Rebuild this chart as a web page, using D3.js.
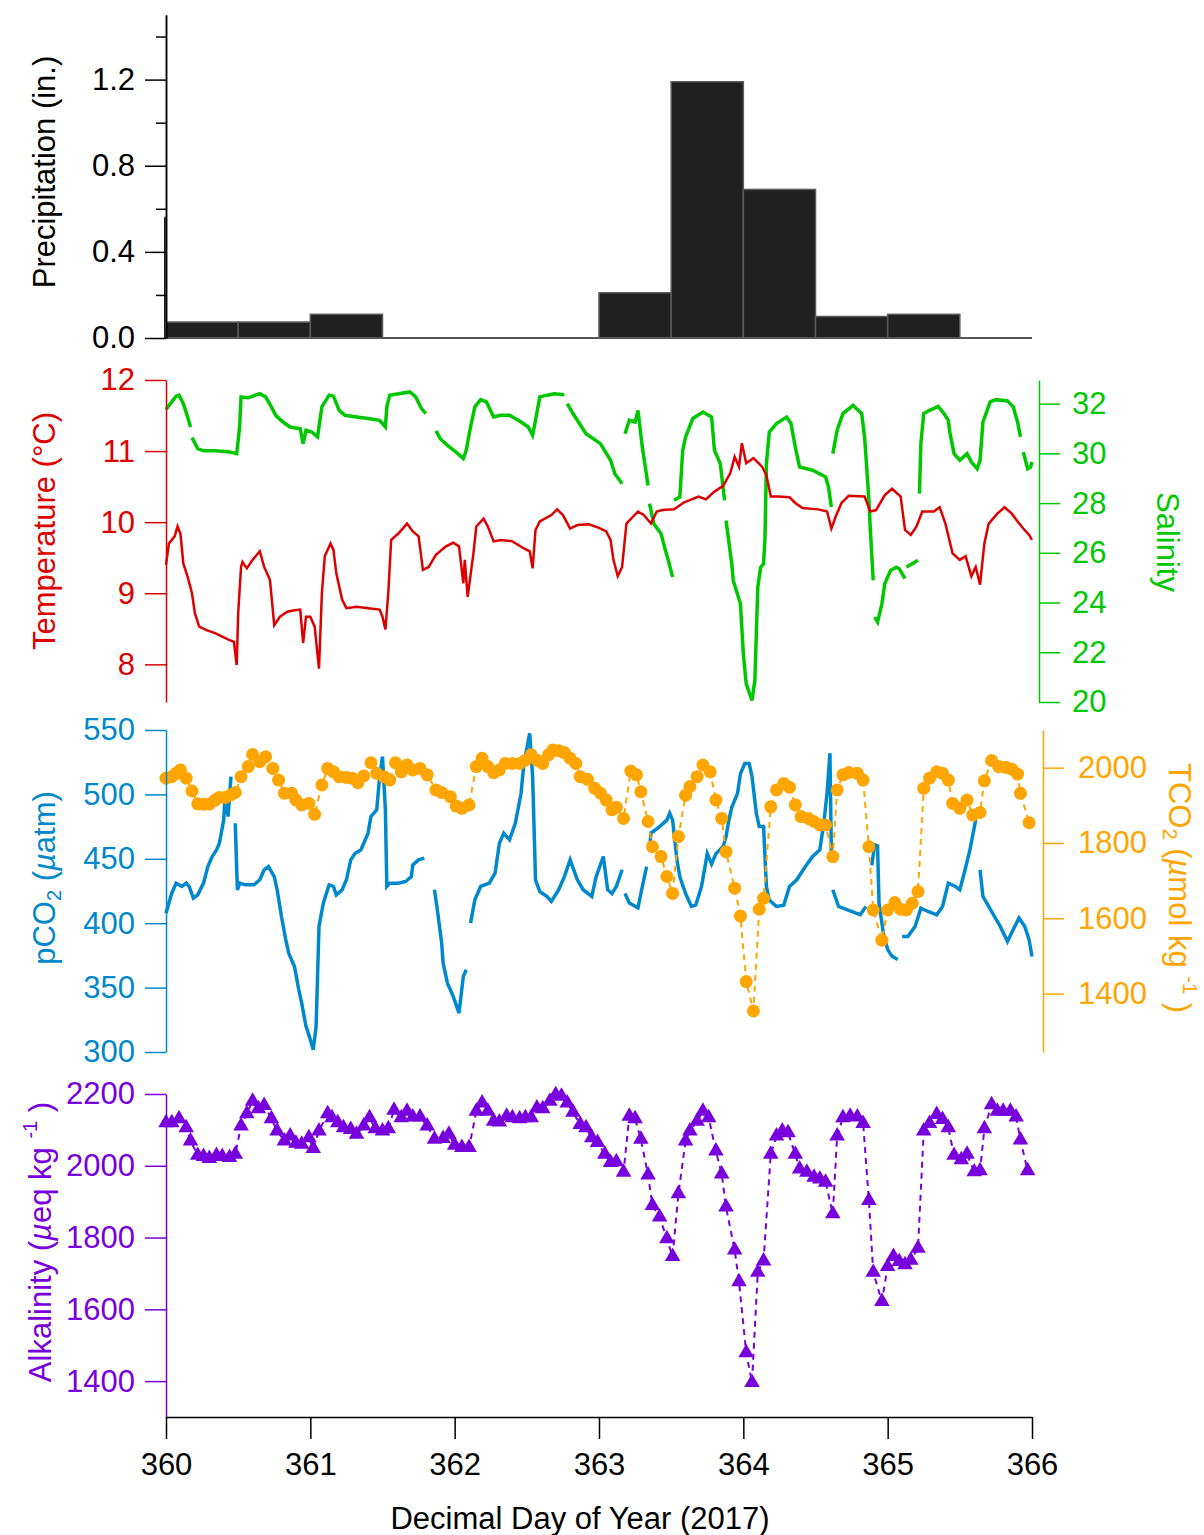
<!DOCTYPE html>
<html>
<head>
<meta charset="utf-8">
<script src="https://cdn.jsdelivr.net/npm/d3@7"></script>
<style>
body { margin: 0; background: #fff; }
text { font-family: Helvetica, "Liberation Sans", Arial, sans-serif; }
</style>
</head>
<body>
<script>
// Precipitation: 12 h bins (start day, inches)
const precipStart = [359.5, 360.0, 360.5, 361.0, 363.0, 363.5, 364.0, 364.5, 365.0];
const precipVal   = [0.56, 0.074, 0.074, 0.11, 0.21, 1.19, 0.69, 0.10, 0.11];
const precipTicks = [0, 0.4, 0.8, 1.2];
const precipMinor = [0.2, 0.6, 1.0, 1.4];

// Temperature (°C) vs decimal day
const temperature = [
  [360.00, 9.40], [360.02, 9.70], [360.06, 9.80], [360.08, 9.94], [360.10, 9.84], [360.12, 9.42],
  [360.15, 9.23], [360.18, 9.00], [360.20, 8.72], [360.23, 8.53], [360.28, 8.48], [360.34, 8.44],
  [360.39, 8.39], [360.44, 8.34], [360.47, 8.32], [360.49, 7.99], [360.50, 8.72], [360.52, 9.37],
  [360.53, 9.44], [360.56, 9.35], [360.60, 9.47], [360.65, 9.59], [360.68, 9.37], [360.72, 9.19],
  [360.75, 8.55], [360.79, 8.67], [360.84, 8.74], [360.89, 8.76], [360.93, 8.77], [360.95, 8.30],
  [360.97, 8.67], [361.00, 8.67], [361.03, 8.53], [361.06, 7.94], [361.08, 9.00], [361.10, 9.52],
  [361.14, 9.70], [361.16, 9.61], [361.18, 9.28], [361.22, 8.91], [361.25, 8.79], [361.32, 8.81],
  [361.40, 8.79], [361.48, 8.77], [361.50, 8.67], [361.52, 8.49], [361.54, 9.00], [361.56, 9.75],
  [361.61, 9.84], [361.67, 9.98], [361.71, 9.87], [361.75, 9.80], [361.78, 9.33], [361.82, 9.37],
  [361.87, 9.54], [361.94, 9.66], [361.99, 9.71], [362.03, 9.66], [362.06, 9.14], [362.07, 9.47],
  [362.09, 8.95], [362.13, 9.56], [362.15, 9.94], [362.20, 10.05], [362.23, 9.94], [362.27, 9.73],
  [362.32, 9.75], [362.40, 9.73], [362.48, 9.63], [362.52, 9.59], [362.54, 9.35], [362.56, 9.89],
  [362.59, 10.01], [362.67, 10.10], [362.71, 10.18], [362.75, 10.10], [362.80, 9.91], [362.85, 9.96],
  [362.93, 9.97], [363.00, 9.92], [363.05, 9.87], [363.08, 9.75], [363.10, 9.47], [363.13, 9.24],
  [363.16, 9.37], [363.19, 9.98], [363.27, 10.15], [363.31, 10.10], [363.36, 9.98], [363.40, 10.15],
  [363.44, 10.17], [363.52, 10.18], [363.59, 10.28], [363.69, 10.36], [363.74, 10.32], [363.80, 10.43],
  [363.86, 10.51], [363.91, 10.69], [363.94, 10.92], [363.97, 10.78], [363.99, 11.11], [364.02, 10.83],
  [364.07, 10.90], [364.13, 10.78], [364.16, 10.66], [364.19, 10.36], [364.24, 10.36], [364.32, 10.35],
  [364.36, 10.27], [364.41, 10.20], [364.52, 10.18], [364.58, 10.15], [364.61, 9.91], [364.64, 10.08],
  [364.68, 10.27], [364.73, 10.37], [364.84, 10.36], [364.88, 10.15], [364.92, 10.17], [364.98, 10.38],
  [365.03, 10.47], [365.09, 10.36], [365.12, 9.89], [365.16, 9.82], [365.20, 9.94], [365.24, 10.15],
  [365.28, 10.15], [365.32, 10.15], [365.36, 10.21], [365.40, 9.98], [365.45, 9.56], [365.50, 9.47],
  [365.54, 9.52], [365.58, 9.24], [365.61, 9.37], [365.64, 9.12], [365.67, 9.70], [365.70, 9.98],
  [365.76, 10.12], [365.81, 10.21], [365.86, 10.12], [365.90, 10.01], [365.94, 9.91], [365.98, 9.82],
  [366.00, 9.75]
];

// Salinity vs decimal day (null = gap in the record)
const salinity = [
  [360.00, 31.76], [360.03, 32.00], [360.07, 32.30], [360.09, 32.34], [360.12, 32.00], [360.15, 31.46],
  [360.17, 31.06], [360.175, null], [360.18, 30.63], [360.22, 30.19], [360.26, 30.10], [360.34, 30.10],
  [360.44, 30.05], [360.49, 29.99], [360.51, 31.06], [360.52, 32.27], [360.57, 32.24], [360.65, 32.40],
  [360.69, 32.27], [360.73, 31.87], [360.76, 31.53], [360.81, 31.26], [360.86, 31.06], [360.93, 30.99],
  [360.95, 30.39], [360.97, 30.93], [361.01, 30.86], [361.05, 30.66], [361.06, 31.06], [361.08, 31.87],
  [361.13, 32.34], [361.16, 32.30], [361.20, 31.73], [361.24, 31.53], [361.32, 31.46], [361.40, 31.40],
  [361.48, 31.33], [361.52, 31.06], [361.53, 31.87], [361.55, 32.34], [361.61, 32.40], [361.69, 32.47],
  [361.73, 32.27], [361.77, 31.80], [361.80, 31.60], [361.83, null], [361.87, 30.90], [361.90, 30.59],
  [361.95, 30.32], [362.01, 30.05], [362.06, 29.79], [362.08, 30.12], [362.11, 31.06], [362.14, 31.87],
  [362.18, 32.16], [362.22, 32.07], [362.27, 31.46], [362.32, 31.53], [362.38, 31.53], [362.46, 31.26],
  [362.51, 31.06], [362.54, 30.73], [362.56, 31.33], [362.59, 32.27], [362.64, 32.34], [362.69, 32.40],
  [362.76, 32.36], [362.77, null], [362.78, 32.00], [362.82, 31.60], [362.91, 30.79], [363.01, 30.39],
  [363.08, 29.72], [363.11, 29.18], [363.16, 28.78], [363.17, null], [363.18, 30.79], [363.21, 31.33],
  [363.25, 31.26], [363.27, 31.73], [363.30, 30.25], [363.34, 28.71], [363.345, null], [363.35, 27.98],
  [363.38, 27.17], [363.43, 26.77], [363.46, 26.10], [363.48, 25.70], [363.51, 25.02], [363.515, null],
  [363.52, 28.11], [363.56, 28.24], [363.58, 30.12], [363.60, 30.66], [363.65, 31.40], [363.72, 31.66],
  [363.78, 31.46], [363.80, 30.12], [363.84, 29.59], [363.87, 28.11], [363.875, null], [363.88, 27.30],
  [363.92, 25.56], [363.93, 24.89], [363.98, 23.95], [364.00, 21.94], [364.02, 20.73], [364.06, 20.06],
  [364.08, 20.87], [364.10, 24.62], [364.12, 25.42], [364.14, 25.56], [364.15, 26.63], [364.16, 29.59],
  [364.18, 30.86], [364.23, 31.20], [364.30, 31.46], [364.33, 31.20], [364.36, 30.25], [364.39, 29.45],
  [364.48, 29.32], [364.57, 29.05], [364.59, 28.64], [364.61, 27.84], [364.615, null], [364.62, 29.99],
  [364.65, 30.93], [364.69, 31.60], [364.76, 31.93], [364.82, 31.60], [364.84, 30.66], [364.85, 29.85],
  [364.87, 28.11], [364.88, 26.90], [364.90, 24.89], [364.905, null], [364.91, 23.41], [364.93, 23.21],
  [364.96, 23.95], [364.98, 24.76], [365.02, 25.29], [365.06, 25.42], [365.08, 25.36], [365.12, 24.96],
  [365.125, null], [365.13, 25.43], [365.17, 25.56], [365.21, 25.70], [365.215, null], [365.22, 28.38],
  [365.23, 30.39], [365.25, 31.60], [365.29, 31.73], [365.35, 31.89], [365.39, 31.60], [365.42, 31.33],
  [365.43, 30.86], [365.46, 29.99], [365.50, 29.72], [365.55, 29.99], [365.58, 29.65], [365.62, 29.38],
  [365.64, 29.72], [365.66, 31.26], [365.71, 32.07], [365.75, 32.16], [365.83, 32.11], [365.87, 31.87],
  [365.90, 31.26], [365.92, 30.66], [365.93, null], [365.94, 30.05], [365.97, 29.38], [365.99, 29.45],
  [366.00, 29.65]
];

// pCO2 (µatm) vs decimal day
const pco2 = [
  [360.00, 407.8], [360.02, 415.6], [360.04, 423.3], [360.07, 431.1], [360.11, 428.5], [360.14, 431.1],
  [360.16, 428.5], [360.19, 419.4], [360.22, 422.0], [360.26, 431.1], [360.29, 444.0], [360.32, 451.8],
  [360.35, 456.9], [360.37, 462.1], [360.40, 480.2], [360.41, 500.9], [360.43, 482.8], [360.45, 513.8],
  [360.46, null], [360.48, 477.6], [360.49, 441.4], [360.495, 425.9], [360.51, 431.1], [360.55, 429.8],
  [360.61, 429.8], [360.65, 433.7], [360.68, 441.4], [360.71, 444.0], [360.75, 436.2], [360.77, 425.9],
  [360.80, 405.2], [360.83, 387.1], [360.85, 376.8], [360.89, 366.4], [360.92, 348.3], [360.94, 338.0],
  [360.97, 319.9], [361.00, 309.6], [361.02, 301.8], [361.04, 319.9], [361.05, 358.7], [361.06, 397.5],
  [361.09, 415.6], [361.13, 429.8], [361.16, 428.5], [361.18, 422.0], [361.22, 425.9], [361.25, 433.7],
  [361.28, 449.2], [361.31, 454.3], [361.35, 456.9], [361.40, 469.9], [361.42, 482.8], [361.46, 488.0],
  [361.48, 513.8], [361.50, 529.3], [361.52, 488.0], [361.53, 428.5], [361.55, 431.1], [361.61, 431.1],
  [361.66, 432.4], [361.70, 436.2], [361.71, 445.3], [361.75, 449.2], [361.79, 450.5], [361.82, null],
  [361.86, 425.9], [361.88, 410.4], [361.91, 384.5], [361.92, 369.0], [361.95, 353.5], [361.99, 343.2],
  [362.03, 330.2], [362.06, 358.7], [362.08, 363.9], [362.09, null], [362.11, 400.1], [362.14, 418.1],
  [362.18, 428.5], [362.24, 431.1], [362.28, 438.8], [362.31, 462.1], [362.34, 469.9], [362.38, 464.7],
  [362.42, 477.6], [362.46, 500.9], [362.48, 524.1], [362.52, 547.4], [362.54, 513.8], [362.55, 475.0],
  [362.56, 433.7], [362.59, 424.6], [362.64, 420.7], [362.67, 416.9], [362.72, 425.9], [362.76, 436.2],
  [362.80, 449.2], [362.85, 433.7], [362.89, 426.0], [362.95, 420.8], [362.98, 436.0], [363.03, 451.8],
  [363.06, 426.0], [363.09, 423.0], [363.12, 428.5], [363.16, 441.5], [363.17, null], [363.18, 423.0],
  [363.21, 415.7], [363.27, 412.0], [363.30, 428.5], [363.33, 444.0], [363.34, null], [363.35, 457.0],
  [363.36, 470.0], [363.42, 475.0], [363.47, 480.0], [363.49, 485.4], [363.51, 480.0], [363.54, 449.0],
  [363.56, 436.0], [363.60, 423.0], [363.64, 413.0], [363.67, 414.0], [363.71, 428.5], [363.73, 441.0],
  [363.75, 454.0], [363.78, 446.0], [363.81, 454.0], [363.86, 459.6], [363.88, 467.0], [363.90, 480.0],
  [363.92, 490.0], [363.96, 500.9], [363.98, 516.0], [364.01, 524.0], [364.04, 524.0], [364.06, 514.0],
  [364.09, 485.4], [364.11, 475.0], [364.14, 475.0], [364.16, 428.5], [364.18, 418.0], [364.23, 413.0],
  [364.28, 414.0], [364.32, 428.5], [364.37, 433.7], [364.43, 444.0], [364.48, 451.8], [364.53, 457.0],
  [364.56, 480.0], [364.58, 500.9], [364.60, 532.0], [364.61, 454.0], [364.615, null], [364.62, 426.0],
  [364.66, 413.0], [364.73, 410.0], [364.81, 406.6], [364.85, 413.0], [364.86, null], [364.89, 445.0],
  [364.91, 460.9], [364.93, 460.0], [364.94, 415.7], [364.97, 392.4], [365.00, 379.5], [365.03, 374.4],
  [365.07, 371.8], [365.08, null], [365.10, 389.7], [365.14, 389.7], [365.19, 397.5], [365.23, 411.7],
  [365.28, 409.1], [365.34, 406.5], [365.38, 413.0], [365.42, 431.1], [365.47, 428.5], [365.50, 425.9],
  [365.53, 438.8], [365.57, 456.9], [365.61, 480.2], [365.62, null], [365.64, 441.4], [365.66, 420.7],
  [365.70, 413.0], [365.74, 405.2], [365.78, 397.5], [365.83, 385.8], [365.87, 395.1], [365.91, 404.1],
  [365.95, 397.5], [365.98, 387.1], [366.00, 374.2]
];

// TCO2 (µmol kg-1) discrete samples
const tco2 = [
  [360.00, 1972], [360.04, 1976], [360.07, 1985], [360.10, 1994], [360.14, 1972], [360.18, 1938],
  [360.22, 1904], [360.26, 1903], [360.30, 1903], [360.34, 1914], [360.37, 1921], [360.41, 1921],
  [360.45, 1928], [360.48, 1934], [360.52, 1976], [360.57, 2003], [360.60, 2035], [360.65, 2016],
  [360.69, 2029], [360.74, 1998], [360.78, 1967], [360.82, 1932], [360.87, 1932], [360.90, 1914],
  [360.94, 1901], [360.99, 1905], [361.03, 1876], [361.08, 1954], [361.12, 1998], [361.16, 1989],
  [361.20, 1976], [361.25, 1974], [361.29, 1972], [361.33, 1960], [361.37, 1978], [361.42, 2013],
  [361.46, 1985], [361.51, 1976], [361.55, 1967], [361.59, 2013], [361.63, 1989], [361.67, 2007],
  [361.71, 1994], [361.76, 1998], [361.81, 1981], [361.87, 1941], [361.91, 1934], [361.97, 1923],
  [362.01, 1898], [362.05, 1892], [362.10, 1901], [362.15, 2003], [362.19, 2025], [362.23, 2003],
  [362.27, 1987], [362.31, 1994], [362.35, 2011], [362.40, 2011], [362.45, 2011], [362.49, 2020],
  [362.53, 2034], [362.57, 2020], [362.61, 2011], [362.65, 2034], [362.68, 2047], [362.72, 2045],
  [362.76, 2040], [362.80, 2025], [362.84, 2011], [362.87, 1976], [362.92, 1969], [362.97, 1945],
  [363.01, 1932], [363.05, 1914], [363.09, 1888], [363.12, 1895], [363.17, 1865], [363.22, 1991],
  [363.26, 1981], [363.29, 1936], [363.34, 1857], [363.37, 1790], [363.43, 1764], [363.47, 1711],
  [363.51, 1666], [363.55, 1817], [363.60, 1927], [363.63, 1950], [363.68, 1976], [363.72, 2007],
  [363.77, 1989], [363.81, 1914], [363.85, 1865], [363.88, 1777], [363.94, 1680], [363.98, 1606],
  [364.02, 1432], [364.07, 1354], [364.11, 1624], [364.14, 1653], [364.19, 1896], [364.23, 1941],
  [364.28, 1958], [364.32, 1948], [364.36, 1901], [364.40, 1870], [364.45, 1865], [364.49, 1857],
  [364.53, 1848], [364.57, 1848], [364.62, 1764], [364.65, 1941], [364.69, 1981], [364.73, 1987],
  [364.79, 1985], [364.83, 1967], [364.87, 1790], [364.90, 1622], [364.96, 1542], [365.00, 1622],
  [365.05, 1642], [365.09, 1624], [365.13, 1622], [365.17, 1640], [365.21, 1671], [365.25, 1945],
  [365.29, 1972], [365.34, 1989], [365.38, 1985], [365.42, 1967], [365.45, 1905], [365.50, 1892],
  [365.55, 1914], [365.59, 1874], [365.64, 1881], [365.67, 1965], [365.72, 2019], [365.77, 2003],
  [365.82, 2001], [365.86, 1996], [365.90, 1983], [365.92, 1932], [365.98, 1854]
];

// Total alkalinity (µeq kg-1) discrete samples
const alkalinity = [
  [360.00, 2120], [360.04, 2120], [360.09, 2131], [360.14, 2106], [360.17, 2069], [360.22, 2029],
  [360.26, 2026], [360.30, 2020], [360.35, 2029], [360.39, 2026], [360.44, 2023], [360.48, 2032],
  [360.52, 2111], [360.56, 2145], [360.60, 2180], [360.64, 2159], [360.68, 2168], [360.73, 2131],
  [360.77, 2097], [360.82, 2069], [360.86, 2083], [360.90, 2063], [360.94, 2060], [360.99, 2078],
  [361.02, 2048], [361.06, 2097], [361.12, 2145], [361.15, 2134], [361.19, 2120], [361.23, 2106],
  [361.28, 2101], [361.32, 2088], [361.37, 2111], [361.41, 2134], [361.45, 2103], [361.50, 2097],
  [361.54, 2103], [361.58, 2155], [361.63, 2134], [361.67, 2152], [361.71, 2136], [361.76, 2136],
  [361.81, 2111], [361.86, 2074], [361.92, 2076], [361.96, 2088], [362.00, 2057], [362.05, 2051],
  [362.10, 2051], [362.15, 2152], [362.19, 2175], [362.23, 2152], [362.27, 2124], [362.31, 2122],
  [362.36, 2138], [362.40, 2134], [362.45, 2131], [362.49, 2134], [362.53, 2134], [362.57, 2161],
  [362.61, 2159], [362.66, 2180], [362.70, 2198], [362.74, 2194], [362.78, 2175], [362.82, 2149],
  [362.87, 2115], [362.91, 2106], [362.95, 2078], [362.99, 2065], [363.04, 2032], [363.08, 2009],
  [363.12, 2011], [363.17, 1982], [363.21, 2138], [363.25, 2131], [363.29, 2074], [363.34, 1974],
  [363.37, 1889], [363.42, 1857], [363.47, 1797], [363.51, 1747], [363.55, 1922], [363.60, 2069],
  [363.63, 2097], [363.68, 2124], [363.72, 2152], [363.76, 2134], [363.81, 2041], [363.85, 1977],
  [363.88, 1885], [363.94, 1765], [363.97, 1677], [364.02, 1479], [364.06, 1396], [364.10, 1703],
  [364.14, 1735], [364.19, 2032], [364.23, 2083], [364.27, 2097], [364.31, 2092], [364.36, 2032],
  [364.39, 1991], [364.44, 1982], [364.49, 1968], [364.53, 1963], [364.57, 1954], [364.62, 1866],
  [364.65, 2083], [364.69, 2134], [364.74, 2138], [364.79, 2136], [364.83, 2118], [364.87, 1903],
  [364.90, 1703], [364.96, 1622], [365.00, 1719], [365.04, 1747], [365.08, 1733], [365.12, 1724],
  [365.16, 1737], [365.21, 1770], [365.25, 2097], [365.29, 2118], [365.34, 2143], [365.38, 2129],
  [365.42, 2106], [365.46, 2029], [365.51, 2017], [365.55, 2032], [365.60, 1983], [365.64, 1986],
  [365.67, 2103], [365.72, 2170], [365.76, 2152], [365.80, 2152], [365.85, 2152], [365.89, 2136],
  [365.92, 2072], [365.97, 1986]
];

const dayTicks = [360, 361, 362, 363, 364, 365, 366];
const tempTicks = [8, 9, 10, 11, 12];
const salTicks = [20, 22, 24, 26, 28, 30, 32];
const pco2Ticks = [300, 350, 400, 450, 500, 550];
const tco2Ticks = [1400, 1600, 1800, 2000];
const alkTicks = [1400, 1600, 1800, 2000, 2200];

const RED = '#dd0000', GREEN = '#00c800', BLUE = '#0088cc', ORANGE = '#ffa500', PURPLE = '#7700dd';
const FS = 31;
const intFmt = d3.format('d');

let svg = d3.select('body').append('svg')
    .attr('width', 1204)
    .attr('height', 1535);

let x = d3.scaleLinear().domain([360, 366]).range([166, 1032]);

// one y scale per panel / side
let yPrecip = d3.scaleLinear().domain([0, 1.5]).range([338, 15]);
let yTemp = d3.scaleLinear().domain([7.47, 12]).range([702, 380]);
let ySal = d3.scaleLinear().domain([20, 32.95]).range([702, 380]);
let yPco2 = d3.scaleLinear().domain([300, 550]).range([1052, 730]);
let yTco2 = d3.scaleLinear().domain([1245, 2100]).range([1052, 730]);
let yAlk = d3.scaleLinear().domain([1300, 2200]).range([1417, 1094]);

function drawAxis(axis, tx, ty, color) {
    let g = svg.append('g')
        .attr('transform', 'translate(' + tx + ',' + ty + ')')
        .call(axis)
        .attr('font-size', null)
        .attr('font-family', null);
    g.selectAll('path, line').attr('stroke', color).attr('stroke-width', 1.5);
    g.selectAll('text').attr('fill', color).style('font-size', FS + 'px');
    return g;
}

function axisTitle(parts, cx, cy, angle, color) {
    let t = svg.append('text')
        .attr('transform', 'translate(' + cx + ',' + cy + ') rotate(' + angle + ')')
        .attr('text-anchor', 'middle')
        .attr('dy', '0.35em')
        .attr('fill', color)
        .style('font-size', FS + 'px');
    parts.forEach(p => {
        let s = t.append('tspan').text(p.t);
        if (p.sub) s.style('font-size', '20px').attr('dy', 6);
        if (p.sup) s.style('font-size', '20px').attr('dy', -14);
        if (p.back) s.attr('dy', p.back);
        if (p.it) s.style('font-style', 'italic');
    });
}

// ---- panel 1: precipitation bars
svg.append('clipPath').attr('id', 'pclip')
    .append('rect').attr('x', 164).attr('y', 0).attr('width', 870).attr('height', 340);

svg.append('g').attr('clip-path', 'url(#pclip)')
    .selectAll('rect')
    .data(precipStart)
    .enter()
    .append('rect')
    .attr('x', d => x(d))
    .attr('width', d => x(d + 0.5) - x(d))
    .attr('y', (d, i) => yPrecip(precipVal[i]))
    .attr('height', (d, i) => yPrecip(0) - yPrecip(precipVal[i]))
    .style('fill', '#202020')
    .style('stroke', '#5a5a5a')
    .style('stroke-width', 1.5);

svg.append('line')
    .attr('x1', x(360)).attr('x2', x(366))
    .attr('y1', yPrecip(0)).attr('y2', yPrecip(0))
    .style('stroke', '#555').style('stroke-width', 2);

drawAxis(d3.axisLeft(yPrecip).tickValues(precipMinor).tickSize(10).tickFormat('').tickSizeOuter(0), 166, 0, '#000');
drawAxis(d3.axisLeft(yPrecip).tickValues(precipTicks).tickSize(21).tickPadding(10).tickFormat(d3.format('.1f')).tickSizeOuter(0), 166, 0, '#000');
axisTitle([{t: 'Precipitation (in.)'}], 44, 172, -90, '#000');

// ---- panel 2: salinity (behind) and temperature
let salLine = d3.line().defined(d => d[1] != null).x(d => x(d[0])).y(d => ySal(d[1]));
svg.append('path').datum(salinity)
    .attr('d', salLine)
    .style('fill', 'none').style('stroke', GREEN).style('stroke-width', 3.5);

let tempLine = d3.line().x(d => x(d[0])).y(d => yTemp(d[1]));
svg.append('path').datum(temperature)
    .attr('d', tempLine)
    .style('fill', 'none').style('stroke', RED).style('stroke-width', 2.5);

drawAxis(d3.axisLeft(yTemp).tickValues(tempTicks).tickSize(21).tickPadding(10).tickFormat(intFmt).tickSizeOuter(0), 166, 0, RED);
drawAxis(d3.axisRight(ySal).tickValues(salTicks).tickSize(21).tickPadding(12).tickFormat(intFmt).tickSizeOuter(0), 1039, 0, GREEN);
axisTitle([{t: 'Temperature (°C)'}], 44, 531, -90, RED);
axisTitle([{t: 'Salinity'}], 1168, 542, 90, GREEN);

// ---- panel 3: pCO2 and TCO2
let pLine = d3.line().defined(d => d[1] != null).x(d => x(d[0])).y(d => yPco2(d[1]));
svg.append('path').datum(pco2)
    .attr('d', pLine)
    .style('fill', 'none').style('stroke', BLUE).style('stroke-width', 3.5);

let cLine = d3.line().x(d => x(d[0])).y(d => yTco2(d[1]));
svg.append('path').datum(tco2)
    .attr('d', cLine)
    .style('fill', 'none').style('stroke', ORANGE).style('stroke-width', 2)
    .style('stroke-dasharray', '6,5');
svg.append('g').selectAll('circle')
    .data(tco2)
    .enter()
    .append('circle')
    .attr('cx', d => x(d[0]))
    .attr('cy', d => yTco2(d[1]))
    .attr('r', 6.5)
    .style('fill', ORANGE);

drawAxis(d3.axisLeft(yPco2).tickValues(pco2Ticks).tickSize(21).tickPadding(10).tickFormat(intFmt).tickSizeOuter(0), 166, 0, BLUE);
drawAxis(d3.axisRight(yTco2).tickValues(tco2Ticks).tickSize(21).tickPadding(14).tickFormat(intFmt).tickSizeOuter(0), 1043, 0, ORANGE);
axisTitle([{t: 'pCO'}, {t: '2', sub: true}, {t: ' (', back: -6}, {t: 'µ', it: true}, {t: 'atm)'}], 44, 878, -90, BLUE);
axisTitle([{t: 'TCO'}, {t: '2', sub: true}, {t: ' (', back: -6}, {t: 'µ', it: true}, {t: 'mol kg '},
    {t: '-1', sup: true}, {t: ' )', back: 14}], 1180, 888, 90, ORANGE);

// ---- panel 4: alkalinity
let aLine = d3.line().x(d => x(d[0])).y(d => yAlk(d[1]));
svg.append('path').datum(alkalinity)
    .attr('d', aLine)
    .style('fill', 'none').style('stroke', PURPLE).style('stroke-width', 2)
    .style('stroke-dasharray', '6,5');
let tri = d3.symbol().type(d3.symbolTriangle).size(105);
svg.append('g').selectAll('path')
    .data(alkalinity)
    .enter()
    .append('path')
    .attr('d', tri)
    .attr('transform', d => 'translate(' + x(d[0]) + ',' + yAlk(d[1]) + ')')
    .style('fill', PURPLE);

drawAxis(d3.axisLeft(yAlk).tickValues(alkTicks).tickSize(21).tickPadding(10).tickFormat(intFmt).tickSizeOuter(0), 166, 0, PURPLE);
axisTitle([{t: 'Alkalinity ('}, {t: 'µ', it: true}, {t: 'eq kg '}, {t: '-1', sup: true}, {t: ' )', back: 14}], 40, 1242, -90, PURPLE);

// ---- shared day axis
drawAxis(d3.axisBottom(x).tickValues(dayTicks).tickSize(22).tickPadding(14).tickFormat(intFmt).tickSizeOuter(0), 0, 1417, '#000');
svg.append('text')
    .attr('x', 580).attr('y', 1518)
    .attr('dy', '0.35em')
    .attr('text-anchor', 'middle')
    .style('font-size', FS + 'px')
    .text('Decimal Day of Year (2017)');
</script>
</body>
</html>
